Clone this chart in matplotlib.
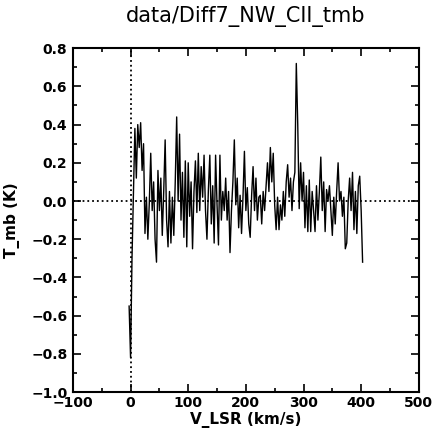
import numpy as np
import matplotlib
matplotlib.use('Agg')
from matplotlib import pyplot as plt
from matplotlib.ticker import MultipleLocator

plt.rcParams['font.family'] = ['DejaVu Sans']

TITLE = 'data/Diff7_NW_CII_tmb'

# channel grid of the spectrum
V0 = -2.5       # km/s, first channel
DV = 2.5        # km/s per channel

# T_mb (K)
tmb = [
    -0.55, -0.82, -0.30, 0.05, 0.38, 0.12, 0.40, 0.28,
    0.41, 0.16, 0.30, -0.17, 0.02, -0.20, -0.01, 0.25,
    -0.05, 0.10, -0.20, -0.32, 0.16, -0.05, 0.12, -0.18,
    0.05, 0.32, -0.10, -0.24, 0.05, -0.22, 0.02, -0.18,
    0.10, 0.44, 0.00, 0.35, -0.10, 0.15, -0.19, 0.21,
    -0.24, 0.20, -0.08, 0.10, -0.25, 0.05, 0.21, -0.06,
    0.25, -0.05, 0.18, 0.02, 0.24, -0.05, -0.20, 0.06,
    0.24, -0.12, 0.08, -0.22, 0.24, -0.02, -0.23, 0.24,
    -0.10, 0.05, -0.05, 0.12, -0.10, 0.05, -0.27, -0.05,
    0.10, 0.32, -0.02, 0.12, -0.14, 0.03, -0.17, 0.02,
    0.26, -0.05, 0.07, -0.12, -0.19, 0.03, 0.18, -0.05,
    0.12, -0.10, 0.02, 0.03, -0.12, 0.05, -0.05, 0.08,
    0.20, 0.05, 0.28, 0.10, 0.25, -0.02, -0.15, 0.02,
    -0.15, -0.02, -0.10, 0.05, -0.08, 0.10, 0.19, 0.02,
    0.12, -0.05, 0.10, 0.15, 0.72, 0.40, -0.04, 0.20,
    0.00, 0.15, -0.14, 0.08, -0.16, 0.11, -0.16, 0.05,
    -0.05, -0.16, 0.08, -0.10, 0.05, 0.23, -0.05, 0.10,
    -0.16, 0.06, 0.00, 0.08, -0.05, -0.18, 0.02, -0.12,
    0.05, 0.20, 0.00, 0.05, -0.08, 0.02, -0.25, -0.22,
    0.00, 0.12, -0.05, 0.15, -0.15, 0.05, -0.17, 0.08,
    0.13, -0.05, -0.32,
]

XLIM = (-100, 500)
YLIM = (-1.0, 0.8)


def main():
    tmb_arr = np.array(tmb)
    vel = V0 + DV * np.arange(len(tmb_arr))

    fig = plt.figure(figsize=(4.34, 4.42), dpi=100)
    ax = fig.add_axes([0.168, 0.113, 0.797, 0.778])

    ax.plot(vel, tmb_arr, color='k', linewidth=1.0)
    ax.axhline(0.0, color='k', linestyle=':', linewidth=1.3)
    ax.axvline(0.0, color='k', linestyle=':', linewidth=1.3)

    ax.set_xlim(*XLIM)
    ax.set_ylim(*YLIM)

    ax.xaxis.set_major_locator(MultipleLocator(100))
    ax.xaxis.set_minor_locator(MultipleLocator(50))
    ax.yaxis.set_major_locator(MultipleLocator(0.2))
    ax.yaxis.set_minor_locator(MultipleLocator(0.1))

    ax.tick_params(which='both', direction='in', top=True, right=True,
                   width=1.2)
    ax.tick_params(which='major', length=6)
    ax.tick_params(which='minor', length=3)
    ax.tick_params(axis='x', pad=3)
    ax.tick_params(axis='y', pad=4)

    for lab in ax.get_xticklabels() + ax.get_yticklabels():
        lab.set_fontsize(10)
        lab.set_fontweight('bold')

    for sp in ax.spines.values():
        sp.set_linewidth(1.5)

    ax.set_xlabel('V_LSR (km/s)', fontsize=11, fontweight='bold', labelpad=1)
    ax.set_ylabel('T_mb (K)', fontsize=11, fontweight='bold', labelpad=8)
    ax.set_title(TITLE, fontsize=15, pad=19)

    fig.savefig('out.png', dpi=100)


if __name__ == '__main__':
    main()
